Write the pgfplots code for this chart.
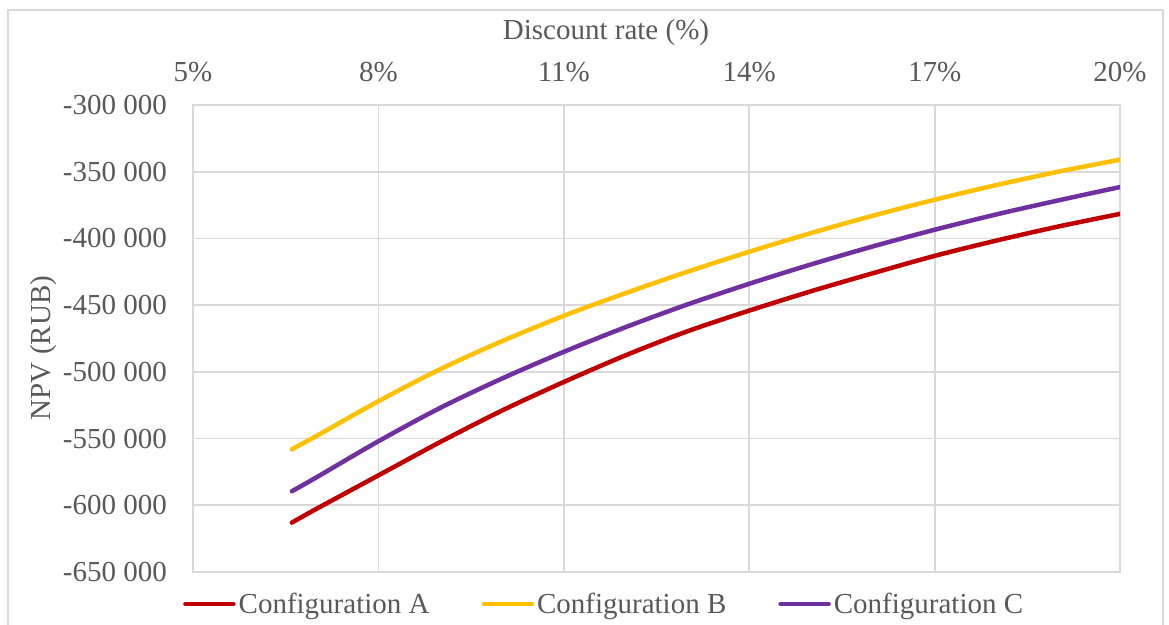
\documentclass[border=0pt]{standalone}
\usepackage{pgfplots}
\pgfplotsset{compat=1.18}
\usepackage{pgfplotstable}
\usepackage{fontspec}
\setmainfont{Liberation Serif}

\definecolor{cfgA}{HTML}{C00000}
\definecolor{cfgB}{HTML}{FFC000}
\definecolor{cfgC}{HTML}{7030A0}
\definecolor{gridgray}{HTML}{D9D9D9}
\definecolor{txtgray}{HTML}{595959}

% NPV (RUB) versus discount rate (%) for the three configurations
\pgfplotstableread{
rate   A        B        C
6.6   -613000  -558000  -589500
7     -602600  -548000  -579000
8     -577600  -522000  -552000
9     -552600  -498000  -527000
10    -529000  -477000  -505000
11    -507600  -458000  -485000
12    -487600  -441000  -466500
13    -469600  -425000  -449500
14    -454100  -410000  -434000
15    -439600  -396000  -419500
16    -426100  -383000  -406000
17    -413100  -371000  -393500
18    -401600  -360000  -382000
19    -391100  -350000  -371500
20    -381600  -341000  -361500
}\npvdata

\begin{document}
\begin{tikzpicture}
\useasboundingbox (0,0) rectangle (1169pt,624pt);
\fill[white] (0,0) rectangle (1169pt,624pt);
\draw[gridgray, line width=1.5pt] (8pt,-10pt) rectangle (1163pt,614pt);
\begin{axis}[
  at={(193pt,52pt)}, anchor=south west,
  scale only axis, width=927pt, height=467pt,
  xmin=5, xmax=20, ymin=-650000, ymax=-300000,
  scaled x ticks=false, scaled y ticks=false,
  xtick={5,8,11,14,17,20},
  xticklabels={5\%,8\%,11\%,14\%,17\%,20\%},
  ytick={-650000,-600000,-550000,-500000,-450000,-400000,-350000,-300000},
  yticklabels={-650 000,-600 000,-550 000,-500 000,-450 000,-400 000,-350 000,-300 000},
  xticklabel pos=upper,
  major tick length=0pt,
  grid=major,
  grid style={gridgray, line width=1.8pt},
  axis line style={gridgray, line width=1.8pt},
  font=\fontsize{29}{34}\selectfont,
  every tick label/.append style={text=txtgray, font=\fontsize{29}{34}\selectfont},
  yticklabel style={anchor=east, inner sep=0pt, xshift=-26pt},
  xticklabel style={anchor=south, inner sep=0pt, yshift=23pt},
  xlabel={Discount rate (\%)},
  ylabel={NPV (RUB)},
  xlabel style={at={(axis description cs:0.4455,1.1542)}, anchor=center, text=txtgray, font=\fontsize{29}{34}\selectfont},
  ylabel style={at={(axis description cs:-0.1610,0.4797)}, anchor=center, rotate=0, text=txtgray, font=\fontsize{29}{34}\selectfont},
  legend columns=3,
  legend style={at={(axis description cs:-0.0108,-0.0685)}, anchor=west, draw=none, fill=none,
    inner sep=0pt, font=\fontsize{29}{34}\selectfont, text=txtgray,
    /tikz/every even column/.append style={column sep=49pt},
    nodes={inner sep=3pt}},
  legend image code/.code={\draw[line width=4.5pt, line cap=round] (0pt,0pt) -- (48pt,0pt);},
  every axis plot/.append style={line width=4.5pt, line cap=round, line join=round, smooth, no marks},
]
\addplot[cfgA] table[x=rate, y=A] {\npvdata};
\addlegendentry{Configuration A}
\addplot[cfgB] table[x=rate, y=B] {\npvdata};
\addlegendentry{Configuration B}
\addplot[cfgC] table[x=rate, y=C] {\npvdata};
\addlegendentry{Configuration C}
\end{axis}
\end{tikzpicture}
\end{document}
